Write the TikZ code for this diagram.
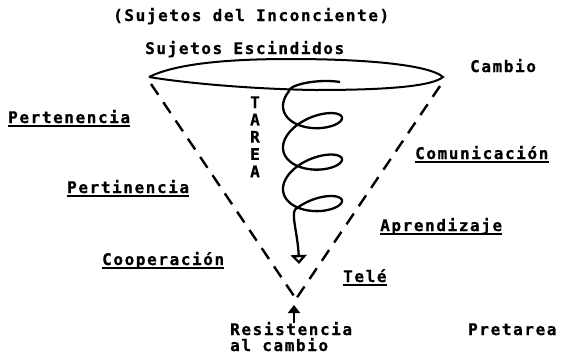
\documentclass[tikz,border=0pt]{standalone}
\usepackage{fontspec}
\setmainfont{DejaVu Sans Mono}[LetterSpace=10,BoldFeatures={FakeBold=0.8}]
\usetikzlibrary{arrows.meta}
\begin{document}
\begin{tikzpicture}[x=1pt,y=-1pt,
    texto/.style={font=\fontsize{16}{18}\selectfont\bfseries,inner sep=0pt,anchor=base west},
    cono/.style={line width=2.4pt,dash pattern=on 13pt off 9pt},
    trazo/.style={line width=2pt},
    espiral/.style={line width=2.3pt,-{Triangle[open,length=9pt,width=16pt]}},
    flecha/.style={line width=2.4pt,-{Triangle[length=8pt,width=12pt]}},
    raya/.style={line width=1.8pt}]
  \useasboundingbox (0,0) rectangle (563,354);
  % textos
  \node[texto] (titulo) at (113,21) {(Sujetos del Inconciente)};
  \node[texto] (escindidos) at (145,54) {Sujetos Escindidos};
  \node[texto] (cambio) at (470,72) {Cambio};
  \node[texto] (pertenencia) at (8,123) {Pertenencia};
  \node[texto] (pertinencia) at (67,193) {Pertinencia};
  \node[texto] (cooperacion) at (102,265) {Cooperación};
  \node[texto] (comunicacion) at (415,159) {Comunicación};
  \node[texto] (aprendizaje) at (380,231) {Aprendizaje};
  \node[texto] (tele) at (343,282) {Telé};
  \node[texto] (resistencia) at (230,335) {Resistencia};
  \node[texto] (alcambio) at (230,351) {al cambio};
  \node[texto] (pretarea) at (468,335) {Pretarea};
  \foreach \l [count=\i from 0] in {T,A,R,E,A}
    \node[texto,anchor=base] (tarea\i) at (255,{108+17.3*\i}) {\l};
  \foreach \n in {pertenencia,pertinencia,cooperacion,comunicacion,aprendizaje,tele}
    \draw[raya] ([yshift=-3pt]\n.base west) -- ([yshift=-3pt]\n.base east);
  % cono
  \coordinate (conoL) at (151,84);
  \coordinate (conoR) at (440,86);
  \coordinate (vertice) at (296,299);
  \draw[cono] (conoL) -- (vertice);
  \draw[cono] (conoR) -- (vertice);
  % boca
  \draw[trazo] (149,77) .. controls (175,64) and (225,59) .. (290,59)
    .. controls (360,59) and (428,64) .. (443,77)
    .. controls (430,88) and (370,90) .. (315,90)
    .. controls (250,89) and (185,83) .. (149,77);
  % espiral de la tarea
  \draw[espiral] (340,82) .. controls (322,79) and (294,83) .. (289,90)
    -- plot[domain=-3.783:14.766,samples=220,variable=\t]
      ({312.5+29.5*cos(\t r)},{122.4+6.6*\t-16*sin(\t r)-4.4*cos(\t r)})
    .. controls (291,214) and (298,236) .. (299,264);
  % resistencia
  \coordinate (flechaA) at (294,323);
  \coordinate (flechaB) at (294,305);
  \draw[flecha] (flechaA) -- (flechaB);
\end{tikzpicture}
\end{document}
